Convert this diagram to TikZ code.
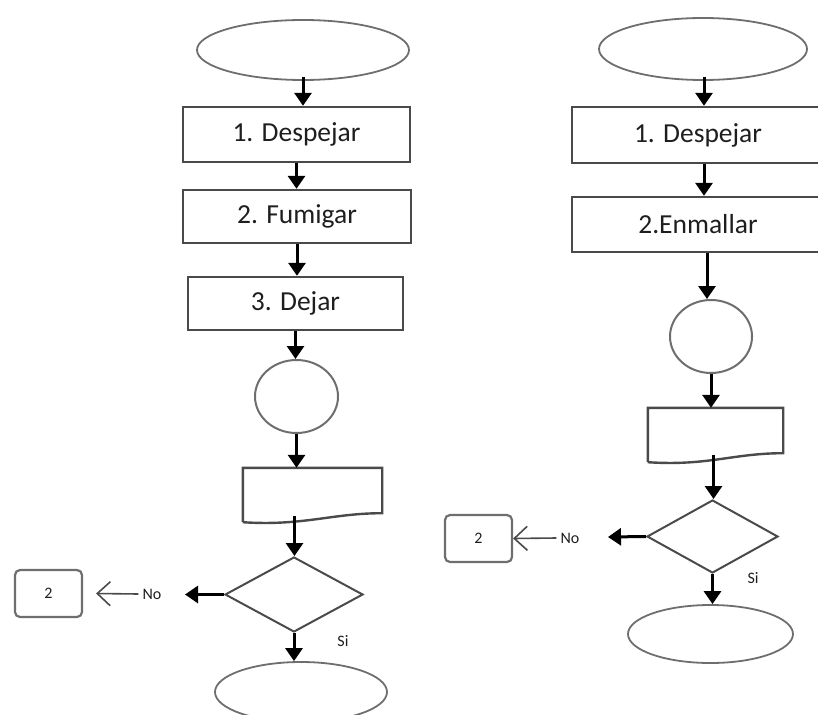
\documentclass[tikz,border=0pt]{standalone}
\usepackage{fontspec}
\setmainfont{Carlito}
\usetikzlibrary{shapes.geometric,arrows.meta,calc}

\definecolor{edge}{HTML}{4A4A4A}
\definecolor{soft}{HTML}{6E6E6E}
\definecolor{ink}{HTML}{1E1E1E}

\tikzset{
  procbox/.style={rectangle, draw=edge, line width=2.4pt, inner sep=0pt,
    text=ink, font=\fontsize{27.5}{30}\selectfont},
  termina/.style={ellipse, draw=soft, line width=1.8pt, inner sep=0pt},
  linkcirc/.style={ellipse, draw=soft, line width=2pt, inner sep=0pt},
  docframe/.style={rectangle, inner sep=0pt},
  docline/.style={draw=edge, line width=2.4pt, line join=miter},
  choice/.style={diamond, draw=edge, line width=2pt, inner sep=0pt},
  jumpbox/.style={rectangle, rounded corners=5pt, draw=soft, line width=2.2pt,
    inner sep=0pt, text=ink, font=\fontsize{16}{18}\selectfont},
  smalltag/.style={text=ink, inner sep=0pt, font=\fontsize{16}{18}\selectfont},
  flow/.style={draw=black, line width=3pt,
    -{Triangle[length=13pt,width=17pt]}},
  hook/.style={draw=edge, line width=1.6pt,
    -{Straight Barb[length=13pt,width=24pt,line width=1.6pt]}}
}

\begin{document}
\begin{tikzpicture}[x=1pt,y=-1pt]
\useasboundingbox (0,0) rectangle (818,714);
\clip (0,0) rectangle (818,714);

% ---------- left flow ----------
\node[termina, minimum width=212pt, minimum height=60pt] (t1) at (303,50) {};
\node[procbox, minimum width=227pt, minimum height=55pt] (b1) at (296.5,134.5) {1. Despejar};
\node[procbox, minimum width=228pt, minimum height=53pt] (b2) at (297,216.5) {2. Fumigar};
\node[procbox, minimum width=215pt, minimum height=53pt] (b3) at (295.5,303.5) {3. Dejar};
\node[linkcirc, minimum width=83pt, minimum height=73pt] (c1) at (296.5,396.5) {};
\node[docframe, minimum width=139pt, minimum height=48pt] (d1) at (312.5,492) {};
\draw[docline] ($(d1.south west)+(0,6)$) -- (d1.north west) -- (d1.north east)
  -- ($(d1.south east)+(0,-3)$)
  .. controls ($(d1.south east)+(-50,-3)$) and ($(d1.south west)+(60,10)$)
  .. ($(d1.south west)+(0,6)$);
\node[choice, minimum width=138pt, minimum height=75pt] (q1) at (294,594.5) {};
\node[termina, minimum width=172pt, minimum height=60pt] (e1) at (301,692) {};
\node[jumpbox, minimum width=67pt, minimum height=47pt] (r1) at (48.5,593.5) {2};
\node[smalltag] (no1) at (152,594) {No};
\node[smalltag] (si1) at (343,641) {Si};
\coordinate (tail1) at (185,594.5);

\draw[flow] ([yshift=4pt]t1.south) -- (t1.south |- b1.north);
\draw[flow] (b1.south) -- (b1.south |- b2.north);
\draw[flow] (b2.south) -- (b2.south |- b3.north);
\draw[flow] (b3.south) -- (b3.south |- c1.north);
\draw[flow] (c1.south) -- (c1.south |- d1.north);
\draw[flow] ([xshift=-18pt]d1.south) -- ([xshift=-18pt]d1.south |- q1.north);
\draw[flow] (q1.south) -- (q1.south |- e1.north);
\draw[flow] (q1.west) -- (tail1);
\draw[hook] (no1.west) ++(-4,0) -- ([xshift=13pt]r1.east);

% ---------- right flow ----------
\node[termina, minimum width=208pt, minimum height=62pt] (t2) at (703,49) {};
\node[procbox, minimum width=252pt, minimum height=56pt] (b4) at (698,135) {1. Despejar};
\node[procbox, minimum width=252pt, minimum height=55pt] (b5) at (698,224.5) {2.Enmallar};
\node[linkcirc, minimum width=82pt, minimum height=73pt] (c2) at (711,336.5) {};
\node[docframe, minimum width=135pt, minimum height=47pt] (d2) at (715.5,431.5) {};
\draw[docline] ($(d2.south west)+(0,7)$) -- (d2.north west) -- (d2.north east)
  -- ($(d2.south east)+(0,-2)$)
  .. controls ($(d2.south east)+(-50,-2)$) and ($(d2.south west)+(60,11)$)
  .. ($(d2.south west)+(0,7)$);
\node[choice, minimum width=131pt, minimum height=73pt] (q2) at (712.5,536.5) {};
\node[termina, minimum width=165pt, minimum height=58pt] (e2) at (710.5,634) {};
\node[jumpbox, minimum width=67pt, minimum height=47pt] (r2) at (478.5,538.5) {2};
\node[smalltag] (no2) at (570,538) {No};
\node[smalltag] (si2) at (753,578) {Si};
\coordinate (tail2) at (608,537);

\draw[flow] ([xshift=1pt,yshift=4pt]t2.south) -- ([xshift=1pt]t2.south |- b4.north);
\draw[flow] ([xshift=6pt]b4.south) -- ([xshift=6pt]b4.south |- b5.north);
\draw[flow] ([xshift=9pt]b5.south) -- ([xshift=9pt]b5.south |- c2.north);
\draw[flow] (c2.south) -- (c2.south |- d2.north);
\draw[flow] ([xshift=-2pt]d2.south) -- ([xshift=-2pt]d2.south |- q2.north);
\draw[flow] (q2.south) -- (q2.south |- e2.north);
\draw[flow] (q2.west) -- (tail2);
\draw[hook] (no2.west) ++(-4,0) -- (r2.east);
\end{tikzpicture}
\end{document}
